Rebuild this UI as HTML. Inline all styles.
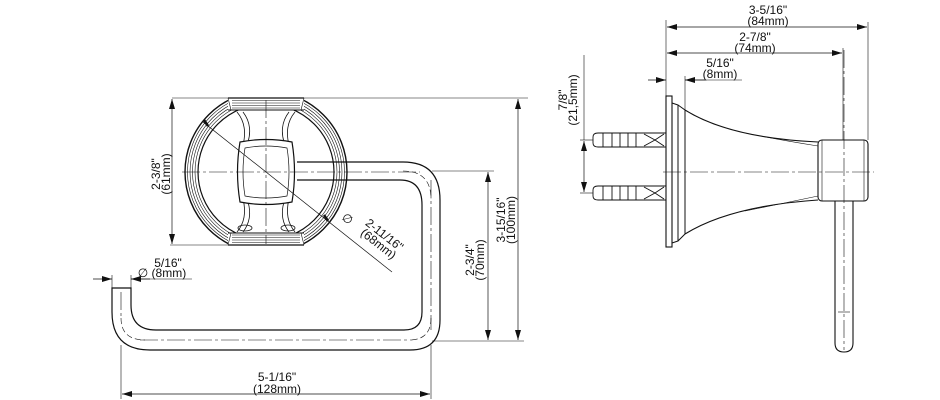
<!DOCTYPE html>
<html><head><meta charset="utf-8"><style>
html,body{margin:0;padding:0;background:#fff;}
svg{display:block;}
text{font-family:"Liberation Sans",sans-serif;font-size:12px;fill:#111;}
</style></head><body>
<svg width="940" height="400" viewBox="0 0 940 400" xmlns="http://www.w3.org/2000/svg">
<defs>
<marker id="a" viewBox="0 0 10 6" refX="10" refY="3" markerWidth="10" markerHeight="6" orient="auto-start-reverse" markerUnits="userSpaceOnUse"><path d="M0,0 L10,3 L0,6 z" fill="#111"/></marker>
<clipPath id="cl"><rect x="150" y="98" width="250" height="147"/></clipPath>
</defs>
<g stroke="#111" fill="none" stroke-width="1">
<!-- ring -->
<g clip-path="url(#cl)">
<circle cx="266" cy="172" r="81" stroke-width="1.4"/>
<circle cx="266" cy="172" r="78.5" stroke-width="0.6"/>
<circle cx="266" cy="172" r="76" stroke-width="0.6"/>
<circle cx="266" cy="172" r="73.5" stroke-width="0.6"/>
<circle cx="266" cy="172" r="71" stroke-width="0.6"/>
<circle cx="266" cy="172" r="68" stroke-width="1.2"/>
</g>
<rect x="228" y="98" width="76" height="12" fill="#fff" stroke="none"/>
<rect x="228" y="233" width="76" height="12" fill="#fff" stroke="none"/>
<g stroke-width="0.6">
<line x1="228" y1="98" x2="304" y2="98" stroke-width="1.2"/>
<line x1="232" y1="100.5" x2="300" y2="100.5"/><line x1="232" y1="103" x2="300" y2="103"/><line x1="232" y1="105.5" x2="300" y2="105.5"/><line x1="232" y1="108" x2="300" y2="108"/><line x1="228" y1="110" x2="304" y2="110" stroke-width="1"/>
<line x1="228" y1="245" x2="304" y2="245" stroke-width="1.2"/>
<line x1="232" y1="242.5" x2="300" y2="242.5"/><line x1="232" y1="240" x2="300" y2="240"/><line x1="232" y1="237.5" x2="300" y2="237.5"/><line x1="232" y1="235" x2="300" y2="235"/><line x1="228" y1="233" x2="304" y2="233" stroke-width="1"/>
<line x1="228" y1="98" x2="231" y2="110"/><line x1="304" y1="98" x2="301" y2="110"/>
<line x1="228" y1="245" x2="231" y2="233"/><line x1="304" y1="245" x2="301" y2="233"/>
</g>
<!-- spokes -->
<path d="M237 112 Q248 125 243 145" stroke-width="0.8"/><path d="M243 112 Q253 125 248 142" stroke-width="0.8"/>
<path d="M295 112 Q284 125 289 145" stroke-width="0.8"/><path d="M289 112 Q279 125 284 142" stroke-width="0.8"/>
<path d="M237 232 Q248 219 243 199" stroke-width="0.8"/><path d="M243 232 Q253 219 248 202" stroke-width="0.8"/>
<path d="M295 232 Q284 219 289 199" stroke-width="0.8"/><path d="M289 232 Q279 219 284 202" stroke-width="0.8"/>
<ellipse cx="245" cy="228" rx="7" ry="3" stroke-width="0.8"/><ellipse cx="288" cy="228" rx="7" ry="3" stroke-width="0.8"/>
<!-- center square -->
<path d="M240 142 Q266 137 292 142 Q297 172 292 202 Q266 207 240 202 Q235 172 240 142 z" stroke-width="1.2" fill="#fff"/>
<path d="M245 148 Q266 144 287 148 Q291 172 287 196 Q266 200 245 196 Q241 172 245 148 z" stroke-width="0.7"/>
<!-- loop tube -->
<path d="M297 162 H403 Q440 162 440 200 V320 Q440 350 410 350 H150 Q112 350 112 312 V288 H131 V305 Q131 330 156 330 H404 Q422 330 422 312 V205 Q422 180 400 180 H297" stroke-width="1.2"/>
<!-- centerlines -->
<g stroke-width="0.6" stroke-dasharray="18,3,3,3">
<line x1="182" y1="172" x2="420" y2="172"/>
<line x1="266" y1="100" x2="266" y2="244"/>
<line x1="431" y1="180" x2="431" y2="330"/>
<line x1="140" y1="340" x2="412" y2="340"/>
<line x1="121" y1="292" x2="121" y2="318"/>
</g>
<path d="M403 171 Q431 171 431 199 M431 318 Q431 340 409 340 M121 318 Q121 340 145 340" stroke-width="0.6" stroke-dasharray="6,3"/>
<!-- diagonal leader -->
<line x1="203" y1="122" x2="392" y2="272" stroke-width="0.7"/>
<line x1="204" y1="120" x2="208" y2="126" stroke-width="2.5"/>
<line x1="324" y1="215" x2="328" y2="221" stroke-width="2.5"/>
<!-- dims left -->
<line x1="172" y1="98" x2="528" y2="98" stroke-width="0.6"/>
<line x1="170" y1="245" x2="228" y2="245" stroke-width="0.6"/>
<line x1="172" y1="99" x2="172" y2="244" stroke-width="0.7" marker-start="url(#a)" marker-end="url(#a)"/>
<line x1="432" y1="171" x2="494" y2="171" stroke-width="0.6"/>
<line x1="432" y1="341" x2="524" y2="341" stroke-width="0.6"/>
<line x1="488" y1="172" x2="488" y2="340" stroke-width="0.7" marker-start="url(#a)" marker-end="url(#a)"/>
<line x1="518" y1="99" x2="518" y2="340" stroke-width="0.7" marker-start="url(#a)" marker-end="url(#a)"/>
<line x1="121" y1="345" x2="121" y2="399" stroke-width="0.6"/>
<line x1="431" y1="345" x2="431" y2="399" stroke-width="0.6"/>
<line x1="122" y1="394" x2="430" y2="394" stroke-width="0.7" marker-start="url(#a)" marker-end="url(#a)"/>
<line x1="112" y1="275" x2="112" y2="288" stroke-width="0.6"/>
<line x1="131" y1="275" x2="131" y2="288" stroke-width="0.6"/>
<line x1="93" y1="279" x2="112" y2="279" stroke-width="0.7" marker-end="url(#a)"/>
<line x1="150" y1="279" x2="131" y2="279" stroke-width="0.7" marker-end="url(#a)"/>
<line x1="131" y1="279" x2="192" y2="279" stroke-width="0.6"/>

<!-- RIGHT VIEW -->
<rect x="666" y="96" width="6" height="151" stroke-width="1.1"/>
<path d="M672 103 L678 105 V241 L672 243" stroke-width="1"/>
<path d="M678 105 L685 110 V234 L678 241" stroke-width="1"/>
<path d="M685 110 Q730 138 818 142 M685 234 Q730 206 818 200" stroke-width="1.1"/>
<path d="M745 133 Q780 140 818 146 M745 211 Q780 204 818 196" stroke-width="0.6"/>
<rect x="818" y="140" width="50" height="61" rx="4" stroke-width="1.1"/>
<line x1="822" y1="140" x2="822" y2="201" stroke-width="0.6"/>
<line x1="864" y1="140" x2="864" y2="201" stroke-width="0.6"/>
<path d="M835 201 V343 Q835 352 844 352 Q853 352 853 343 V201" stroke-width="1.1"/>
<g stroke-width="0.6" stroke-dasharray="18,3,3,3">
<line x1="663" y1="172" x2="874" y2="172"/>
<line x1="844" y1="50" x2="844" y2="350"/>
</g>
<line x1="838" y1="312" x2="850" y2="312" stroke-width="0.6"/>
<!-- studs -->
<g stroke-width="0.9">
<path d="M666 133 H598 Q593 133 593 137 V143 Q593 147 598 147 H666"/>
<line x1="603" y1="133" x2="603" y2="147"/><line x1="612" y1="133" x2="612" y2="147"/><line x1="620" y1="133" x2="620" y2="147"/><line x1="628" y1="133" x2="628" y2="147"/><line x1="636" y1="133" x2="636" y2="147"/>
<path d="M644 134 L655 140 L664 134 M644 146 L655 140 L664 146"/>
<path d="M666 186 H598 Q593 186 593 190 V196 Q593 200 598 200 H666"/>
<line x1="603" y1="186" x2="603" y2="200"/><line x1="612" y1="186" x2="612" y2="200"/><line x1="620" y1="186" x2="620" y2="200"/><line x1="628" y1="186" x2="628" y2="200"/><line x1="636" y1="186" x2="636" y2="200"/>
<path d="M644 187 L655 193 L664 187 M644 199 L655 193 L664 199"/>
</g>
<!-- dims right -->
<line x1="666" y1="20" x2="666" y2="96" stroke-width="0.6"/>
<line x1="868" y1="22" x2="868" y2="140" stroke-width="0.6"/>
<line x1="843" y1="48" x2="843" y2="140" stroke-width="0.6"/>
<line x1="685" y1="76" x2="685" y2="110" stroke-width="0.6"/>
<line x1="667" y1="27" x2="867" y2="27" stroke-width="0.7" marker-start="url(#a)" marker-end="url(#a)"/>
<line x1="667" y1="53" x2="842" y2="53" stroke-width="0.7" marker-start="url(#a)" marker-end="url(#a)"/>
<line x1="648" y1="80" x2="666" y2="80" stroke-width="0.7" marker-end="url(#a)"/>
<line x1="705" y1="80" x2="685" y2="80" stroke-width="0.7" marker-end="url(#a)"/>
<line x1="685" y1="80" x2="742" y2="80" stroke-width="0.6"/>
<line x1="584" y1="55" x2="584" y2="140" stroke-width="0.6"/>
<line x1="580" y1="140" x2="593" y2="140" stroke-width="0.6"/>
<line x1="580" y1="193" x2="593" y2="193" stroke-width="0.6"/>
<line x1="584" y1="141" x2="584" y2="192" stroke-width="0.7" marker-start="url(#a)" marker-end="url(#a)"/>
</g>
<!-- TEXT -->
<g text-anchor="middle">
<text transform="translate(160,174) rotate(-90)">2-3/8"</text>
<text transform="translate(170,174) rotate(-90)">(61mm)</text>
<text transform="translate(474,260) rotate(-90)">2-3/4"</text>
<text transform="translate(484,260) rotate(-90)">(70mm)</text>
<text transform="translate(505,220) rotate(-90)">3-15/16"</text>
<text transform="translate(515,220) rotate(-90)">(100mm)</text>
<text x="277" y="381">5-1/16"</text>
<text x="277" y="393">(128mm)</text>
<text x="168" y="267">5/16"</text>
<text x="162" y="277">∅ (8mm)</text>
<text transform="translate(345,222) rotate(38)">∅</text>
<text transform="translate(382,238) rotate(38)">2-11/16"</text>
<text transform="translate(376,247) rotate(38)">(68mm)</text>
<text x="768" y="14">3-5/16"</text>
<text x="768" y="25">(84mm)</text>
<text x="755" y="41">2-7/8"</text>
<text x="755" y="52">(74mm)</text>
<text x="720" y="67">5/16"</text>
<text x="720" y="78">(8mm)</text>
<text transform="translate(567,100) rotate(-90)">7/8"</text>
<text transform="translate(577,100) rotate(-90)">(21,5mm)</text>
</g>
</svg>
</body></html>
